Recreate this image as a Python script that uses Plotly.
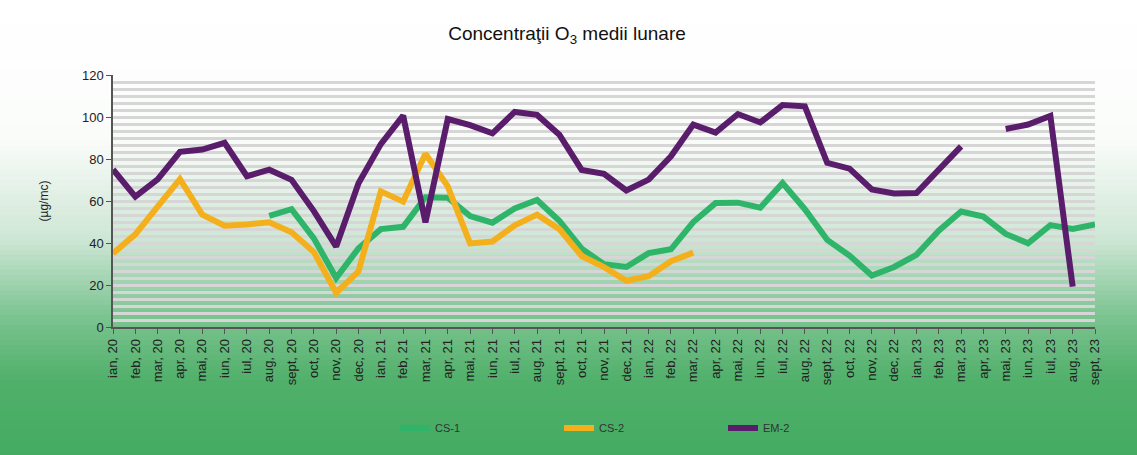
import plotly.graph_objects as go

months = ["ian, 20", "feb, 20", "mar, 20", "apr, 20", "mai, 20", "iun, 20", "iul, 20", "aug, 20",
          "sept, 20", "oct, 20", "nov, 20", "dec, 20", "ian, 21", "feb, 21", "mar, 21", "apr, 21",
          "mai, 21", "iun, 21", "iul, 21", "aug, 21", "sept, 21", "oct, 21", "nov, 21", "dec, 21",
          "ian, 22", "feb, 22", "mar, 22", "apr, 22", "mai, 22", "iun, 22", "iul, 22", "aug, 22",
          "sept, 22", "oct, 22", "nov, 22", "dec, 22", "ian, 23", "feb, 23", "mar, 23", "apr, 23",
          "mai, 23", "iun, 23", "iul, 23", "aug, 23", "sept, 23"]

cs1 = [None, None, None, None, None, None, None, 52.9,
       56.1, 42.2, 23.3, 37.5, 46.6, 47.7, 61.8, 61.6,
       52.8, 49.7, 56.4, 60.5, 50.6, 37.3, 29.9, 28.6,
       35.2, 37.0, 50.0, 59.0, 59.2, 56.8, 68.5, 56.1,
       41.5, 34.0, 24.5, 28.6, 34.4, 45.9, 55.0, 52.6,
       44.3, 39.9, 48.5, 46.7, 48.8]

cs2 = [35.0, 44.1, 57.3, 70.4, 53.5, 48.2, 48.8, 49.9,
       45.1, 35.7, 16.3, 26.5, 64.6, 59.7, 82.5, 67.0,
       39.8, 40.7, 48.4, 53.5, 46.6, 33.8, 28.5, 22.0,
       24.2, 31.3, 35.4, None, None, None, None, None,
       None, None, None, None, None, None, None, None,
       None, None, None, None, None]

em2 = [75.0, 62.1, 70.3, 83.4, 84.5, 87.7, 71.8, 74.9,
       70.1, 55.2, 38.3, 68.5, 87.1, 100.7, 49.8, 99.0,
       96.1, 92.2, 102.4, 101.0, 91.6, 74.8, 72.9, 65.0,
       70.2, 81.3, 96.4, 92.6, 101.4, 97.4, 105.7, 105.1,
       78.2, 75.4, 65.5, 63.6, 63.8, 74.9, 86.0, None,
       94.3, 96.4, 100.5, 19.2, None]

series = [("CS-1", cs1, "#2fb56a"), ("CS-2", cs2, "#f4b01c"), ("EM-2", em2, "#5a1d6c")]

W, H = 1137, 455
ML, MR, MT, MB = 113, 42, 75, 128
PH = H - MT - MB
PW = W - ML - MR

fig = go.Figure()
for name, vals, col in series:
    fig.add_trace(go.Scatter(x=months, y=vals, name=name, mode="lines",
                             line=dict(color=col, width=6), connectgaps=False))

# background gradient (white at top -> green at bottom)
def py2paper(py):
    return (H - MB - py) / PH

stops = [(0, (255, 255, 255)), (140, (250, 252, 250)), (240, (205, 230, 212)),
         (315, (125, 196, 146)), (380, (80, 176, 106)), (455, (68, 171, 98))]

def color_at(py):
    for (y0, c0), (y1, c1) in zip(stops[:-1], stops[1:]):
        if y0 <= py <= y1:
            t = (py - y0) / (y1 - y0) if y1 > y0 else 0
            return "rgb(%d,%d,%d)" % tuple(round(a + (b - a) * t) for a, b in zip(c0, c1))
    return "rgb(%d,%d,%d)" % stops[-1][1]

shapes = []
step = 5
for py in range(0, H, step):
    shapes.append(dict(type="rect", xref="paper", yref="paper",
                       x0=-ML / PW - 0.01, x1=1 + MR / PW + 0.01,
                       y0=py2paper(py + step + 0.5), y1=py2paper(py),
                       fillcolor=color_at(py + step / 2), line=dict(width=0), layer="below"))

fig.update_layout(
    width=W, height=H,
    margin=dict(l=ML, r=MR, t=MT, b=MB, autoexpand=False),
    paper_bgcolor="white",
    plot_bgcolor="#f7f7f7",
    shapes=shapes,
    font=dict(family="Liberation Sans, Arial, sans-serif", color="#222"),
    title=dict(text="Concentraţii O<sub>3</sub> medii lunare", x=567 / W, xref="container",
               xanchor="center", y=1 - 33 / H, yref="container", yanchor="middle",
               font=dict(size=19, color="#111")),
    showlegend=True,
    legend=dict(orientation="h", x=(395 - ML) / PW, xanchor="left",
                y=(H - MB - 428) / PH, yanchor="middle",
                bgcolor="rgba(0,0,0,0)", font=dict(size=11, color="#333"),
                entrywidth=119, entrywidthmode="pixels"),
)

fig.update_xaxes(type="category", range=[0, 44], tickangle=-90, showline=True,
                 linecolor="#555", linewidth=1.5, ticks="outside", ticklen=5, tickcolor="#555",
                 showgrid=False, tickfont=dict(size=13, color="#222"), automargin=False)
fig.update_yaxes(range=[0, 120], dtick=20, showline=True, linecolor="#555", linewidth=1.5,
                 ticks="outside", ticklen=5, tickcolor="#555", tickfont=dict(size=13, color="#222"),
                 showgrid=True, gridcolor="#d6d6d6", gridwidth=3, zeroline=False,
                 minor=dict(dtick=20 / 6, showgrid=True, gridcolor="#d6d6d6", gridwidth=3),
                 automargin=False,
                 title=dict(text="(µg/mc)", font=dict(size=12, color="#222"), standoff=31))

fig.write_html("out.html", config={"displayModeBar": False})

with open("out.html", "r", encoding="utf-8") as f:
    html = f.read()
html = html.replace("<head>", "<head><style>html,body{margin:0;padding:0;}</style>", 1)
with open("out.html", "w", encoding="utf-8") as f:
    f.write(html)
